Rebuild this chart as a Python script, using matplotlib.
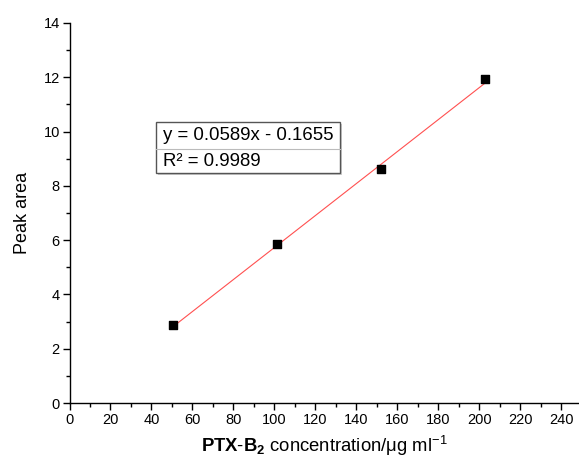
import matplotlib
matplotlib.use("Agg")
import matplotlib.pyplot as plt
from matplotlib.ticker import MultipleLocator
from matplotlib.patches import Rectangle
from matplotlib.lines import Line2D
import numpy as np

plt.rcParams['font.family'] = ['Liberation Sans', 'DejaVu Sans']
plt.rcParams['mathtext.fontset'] = 'custom'
plt.rcParams['mathtext.rm'] = 'Liberation Sans'
plt.rcParams['mathtext.it'] = 'Liberation Sans:italic'
plt.rcParams['mathtext.bf'] = 'Liberation Sans:bold'

# Data
concentration = [50.7, 101.4, 152.1, 202.8]
peak_area = [2.86, 5.87, 8.62, 11.93]
slope = 0.0589
intercept = -0.1655
eq_rows = ["y = 0.0589x - 0.1655", "R² = 0.9989"]
xticks = list(range(0, 241, 20))
yticks = list(range(0, 15, 2))

fig = plt.figure(figsize=(5.79, 4.65), dpi=100)
ax = fig.add_axes([69.5/579, 1-403/465, 509.5/579, 380/465])

xfit = np.array([concentration[0], concentration[-1]])
ax.plot(xfit, slope*xfit + intercept, color='#ff5050', lw=0.8, zorder=2)
ax.scatter(concentration, peak_area, marker='s', s=30, color='black', zorder=3)

ax.set_xlim(0, 509.5/2.048)
ax.set_ylim(0, 14)
ax.set_xticks(xticks)
ax.set_yticks(yticks)
ax.xaxis.set_minor_locator(MultipleLocator(10))
ax.yaxis.set_minor_locator(MultipleLocator(1))
ax.tick_params(which='major', direction='out', length=5, width=1, labelsize=10.5, pad=2)
ax.tick_params(which='minor', direction='out', length=3, width=1)
for s in ['top', 'right']:
    ax.spines[s].set_visible(False)
for s in ['left', 'bottom']:
    ax.spines[s].set_linewidth(1.0)

ax.set_ylabel('Peak area', fontsize=13, labelpad=9)
ax.set_xlabel(r'$\mathbf{PTX\text{-}B_2}$ concentration/μg ml$^{-1}$', fontsize=13.3, labelpad=5)

# equation box (axes coordinates)
bx0, bx1 = (156-69.5)/509.5, (340-69.5)/509.5
by0, by1 = (403-173)/380, (403-122)/380
ymid = (403-149)/380
ax.add_patch(Rectangle((bx0+0.004, by0-0.006), bx1-bx0, by1-by0, transform=ax.transAxes,
                       facecolor='#cccccc', edgecolor='none', zorder=4))
ax.add_patch(Rectangle((bx0, by0), bx1-bx0, by1-by0, transform=ax.transAxes,
                       facecolor='white', edgecolor='#555555', lw=1.0, zorder=5))
ax.add_line(Line2D([bx0, bx1], [ymid, ymid], transform=ax.transAxes,
                   color='#bbbbbb', lw=0.8, zorder=6))
tx = (163-69.5)/509.5
ax.text(tx, (by1+ymid)/2, eq_rows[0], transform=ax.transAxes, fontsize=13.4,
        va='center', ha='left', zorder=7)
ax.text(tx, (by0+ymid)/2, eq_rows[1], transform=ax.transAxes, fontsize=13.4,
        va='center', ha='left', zorder=7)

fig.savefig('out.png', dpi=100)
